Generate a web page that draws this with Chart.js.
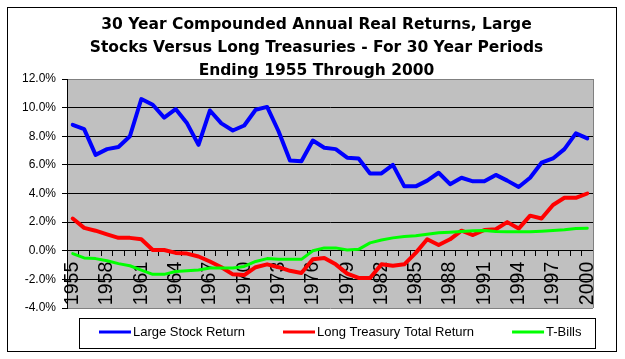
<!DOCTYPE html>
<html>
<head>
<meta charset="utf-8">
<script src="https://cdn.jsdelivr.net/npm/chart.js"></script>
<style>
  body { margin: 0; background: #fff; }
  canvas { display: block; }
</style>
</head>
<body>
<canvas id="myChart" width="625" height="359"></canvas>
<script>
// ending year of each 30 year period
const years = [];
for (let y = 1955; y <= 2000; y++) years.push(String(y));

// compounded annual real returns, percent
const largeStocks = [8.8, 8.5, 6.7, 7.1, 7.25, 8.0, 10.6, 10.2, 9.3, 9.9,
  8.9, 7.4, 9.8, 8.9, 8.4, 8.75, 9.85, 10.05, 8.35, 6.3,
  6.25, 7.7, 7.2, 7.1, 6.5, 6.45, 5.4, 5.4, 6.0, 4.5,
  4.5, 4.9, 5.45, 4.65, 5.1, 4.85, 4.85, 5.3, 4.9, 4.45,
  5.1, 6.15, 6.45, 7.1, 8.2, 7.85];
const longTreasury = [2.25, 1.6, 1.4, 1.15, 0.9, 0.9, 0.8, 0.05, 0.05, -0.15,
  -0.2, -0.4, -0.75, -1.15, -1.65, -1.7, -1.15, -0.95, -1.15, -1.4,
  -1.55, -0.6, -0.5, -0.95, -1.6, -1.9, -1.9, -0.95, -1.05, -0.95,
  -0.15, 0.8, 0.4, 0.8, 1.4, 1.1, 1.45, 1.5, 2.0, 1.55,
  2.45, 2.25, 3.2, 3.7, 3.7, 4.0];
const tBills = [-0.2, -0.5, -0.55, -0.7, -0.9, -1.05, -1.35, -1.65, -1.65, -1.45,
  -1.4, -1.35, -1.2, -1.2, -1.2, -1.1, -0.75, -0.55, -0.6, -0.6,
  -0.6, 0.0, 0.2, 0.2, 0.05, 0.1, 0.55, 0.75, 0.9, 1.0,
  1.05, 1.15, 1.25, 1.3, 1.35, 1.4, 1.42, 1.35, 1.33, 1.33,
  1.33, 1.37, 1.42, 1.46, 1.55, 1.58];
const seriesNames = ["Large Stock Return", "Long Treasury Total Return", "T-Bills"];
const titleLines = ["30 Year Compounded Annual Real Returns, Large",
  "Stocks Versus Long Treasuries - For 30 Year Periods",
  "Ending 1955 Through 2000"];

const FONT = "'Liberation Sans', Arial, sans-serif";

// grey plot area, grey right edge, outer frame and the boxed legend
const excelLook = {
  id: "excelLook",
  afterLayout(chart) {
    // title sits a bit right of the page centre
    if (chart.titleBlock) {
      chart.titleBlock.left += 10;
      chart.titleBlock.right += 10;
    }
  },
  beforeDraw(chart) {
    const { ctx, chartArea: a } = chart;
    ctx.save();
    ctx.fillStyle = "#c0c0c0";
    ctx.fillRect(a.left, a.top, a.right - a.left, a.bottom - a.top);
    ctx.restore();
  },
  afterDraw(chart) {
    const { ctx, chartArea: a } = chart;
    ctx.save();
    ctx.strokeStyle = "#808080";
    ctx.lineWidth = 1;
    ctx.beginPath();
    ctx.moveTo(Math.round(a.right) + 0.5, a.top);
    ctx.lineTo(Math.round(a.right) + 0.5, a.bottom);
    ctx.stroke();

    ctx.strokeStyle = "#000";
    ctx.strokeRect(7.5, 7.5, 609, 344);

    // legend
    const boxL = 79.5, boxT = 318.5, boxR = 595.5, boxB = 348.5;
    ctx.strokeRect(boxL, boxT, boxR - boxL, boxB - boxT);
    ctx.font = "13px " + FONT;
    ctx.textBaseline = "middle";
    ctx.fillStyle = "#000";
    const cy = 332;
    let x = 99;
    chart.data.datasets.forEach((ds) => {
      ctx.strokeStyle = ds.borderColor;
      ctx.lineWidth = 3;
      ctx.beginPath();
      ctx.moveTo(x, cy);
      ctx.lineTo(x + 32, cy);
      ctx.stroke();
      ctx.fillText(ds.label, x + 34, cy);
      x += 34 + ctx.measureText(ds.label).width + 38;
    });
    ctx.restore();
  }
};

new Chart("myChart", {
  type: "line",
  data: {
    labels: years,
    datasets: [
      { label: seriesNames[0], data: largeStocks, borderColor: "#0000ff", borderWidth: 4, order: 2 },
      { label: seriesNames[1], data: longTreasury, borderColor: "#ff0000", borderWidth: 4, order: 1 },
      { label: seriesNames[2], data: tBills, borderColor: "#00ff00", borderWidth: 3, order: 0 },
    ],
  },
  options: {
    responsive: false,
    animation: false,
    devicePixelRatio: 1,
    elements: { point: { radius: 0 }, line: { tension: 0, borderCapStyle: "round", borderJoinStyle: "round" } },
    layout: { padding: { left: 20, right: 32, top: 0, bottom: 51 } },
    plugins: {
      legend: { display: false },
      tooltip: { enabled: false },
      title: {
        display: true,
        text: titleLines,
        color: "#000",
        font: { family: "'DejaVu Sans', sans-serif", size: 15.5, weight: "bold", lineHeight: 23 / 15.5 },
        padding: { top: 13, bottom: -3 },
      },
    },
    scales: {
      x: {
        type: "category",
        position: { y: 0 },
        offset: true,
        grid: { offset: true, drawOnChartArea: false, drawTicks: true, tickLength: 5, tickColor: "#000" },
        border: { display: true, color: "#000", width: 1 },
        ticks: {
          autoSkip: false,
          minRotation: 90,
          maxRotation: 90,
          padding: 6,
          color: "#000",
          font: { family: FONT, size: 19.5 },
          callback: function (val, i) { return i % 3 === 0 ? this.getLabelForValue(val) : ""; },
        },
      },
      y: {
        min: -4,
        max: 12,
        afterFit: (s) => { s.width = 47; },
        grid: {
          color: (c) => (c.tick && (c.tick.value === 12 || c.tick.value === -4) ? "#808080" : "#000"),
          tickColor: "#000",
          tickLength: 5,
          lineWidth: 1,
        },
        border: { display: true, color: "#000" },
        ticks: {
          stepSize: 2,
          padding: 6,
          color: "#000",
          font: { family: FONT, size: 12 },
          callback: (v) => v.toFixed(1) + "%",
        },
      },
    },
  },
  plugins: [excelLook],
});
</script>
</body>
</html>
